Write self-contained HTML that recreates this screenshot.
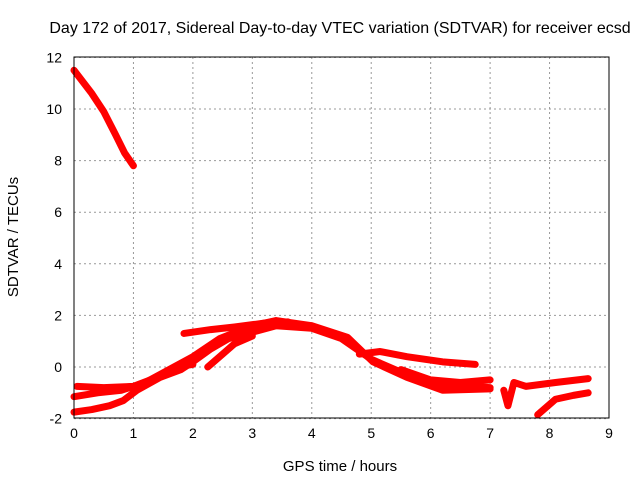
<!DOCTYPE html>
<html><head><meta charset="utf-8"><style>
body{margin:0;background:#fff}
svg{display:block;font-family:"Liberation Sans",sans-serif}
</style></head><body>
<svg id="chart" width="640" height="480">
<text x="340" y="33" font-size="16" text-anchor="middle">Day 172 of 2017, Sidereal Day-to-day VTEC variation (SDTVAR) for receiver ecsd</text>
<text x="340" y="471" font-size="15" text-anchor="middle">GPS time / hours</text>
<text x="18" y="237" font-size="15" text-anchor="middle" transform="rotate(-90 18 237)">SDTVAR / TECUs</text>
<g id="grid"></g><g id="ticks"></g><g id="series"></g>
<rect x="74" y="57" width="535" height="361" fill="none" stroke="#000" stroke-width="1"/>
</svg>
<script>
const xTicks=[0,1,2,3,4,5,6,7,8,9];
const yTicks=[-2,0,2,4,6,8,10,12];
const traceA=[[0,11.5],[0.3,10.6],[0.5,9.9],[0.7,9.0],[0.85,8.3],[1.0,7.8]];
const traceB=[[0,-1.75],[0.3,-1.65],[0.6,-1.5],[0.83,-1.3],[1.06,-0.9],[1.45,-0.4],[1.8,-0.1],[2.0,0.2],[2.3,0.7],[2.6,1.1],[3.0,1.35],[3.4,1.6],[4.0,1.5],[4.5,1.1],[5.0,0.3],[5.6,-0.3],[6.2,-0.7],[7.0,-0.8]];
const traceC=[[0,-1.15],[0.4,-1.0],[0.8,-0.9],[1.2,-0.6],[1.6,-0.1],[2.0,0.4],[2.45,1.1],[3.0,1.6],[3.4,1.8],[4.0,1.6],[4.6,1.15],[5.03,0.2],[5.6,-0.4],[6.2,-0.9],[7.0,-0.85]];
const traceD=[[0.05,-0.75],[0.5,-0.8],[1.0,-0.75],[1.4,-0.4],[1.7,0.0],[2.0,0.1]];
const traceE=[[1.85,1.3],[2.3,1.45],[2.7,1.55],[3.2,1.7],[3.6,1.75]];
const traceF=[[2.25,0.0],[2.5,0.5],[2.7,0.9],[3.0,1.2]];
const traceG=[[4.8,0.5],[5.15,0.6],[5.6,0.4],[6.2,0.2],[6.75,0.1]];
const traceH=[[5.5,-0.1],[6.0,-0.5],[6.5,-0.6],[7.0,-0.5]];
const traceI=[[7.23,-0.9],[7.3,-1.5],[7.4,-0.6],[7.6,-0.75],[8.1,-0.6],[8.65,-0.45]];
const traceJ=[[7.8,-1.85],[8.1,-1.25],[8.4,-1.1],[8.65,-1.0]];
const traces=[traceA,traceB,traceC,traceD,traceE,traceF,traceG,traceH,traceI,traceJ];
const X=v=>74+v*(535/9), Y=v=>367-v*25.8;
const ns="http://www.w3.org/2000/svg";
const grid=document.getElementById('grid'),ticks=document.getElementById('ticks'),ser=document.getElementById('series');
function mk(t,p,a){const e=document.createElementNS(ns,t);for(const k in a)e.setAttribute(k,a[k]);p.appendChild(e);return e;}
xTicks.forEach(v=>{
 const l=mk('line',grid,{x1:X(v),x2:X(v),y1:57,y2:418,stroke:'#999','stroke-dasharray':'2,3'});
 
 
 const t=mk('text',ticks,{x:X(v),y:438,'font-size':14,'text-anchor':'middle'});t.textContent=v;
 
 
});
yTicks.forEach(v=>{
 const l=mk('line',grid,{x1:74,x2:609,y1:Y(v),y2:Y(v),stroke:'#999','stroke-dasharray':'2,3'});
 
 
 const t=mk('text',ticks,{x:62,y:Y(v)+5,'font-size':14,'text-anchor':'end'});t.textContent=v;
 
 
});
traces.forEach(tr=>{
 const p=mk('polyline',ser,{points:tr.map(d=>X(d[0])+','+Y(d[1])).join(' '),fill:'none',stroke:'#f00','stroke-width':7,'stroke-linejoin':'round','stroke-linecap':'round'});
 
 
});
</script>
</body></html>
